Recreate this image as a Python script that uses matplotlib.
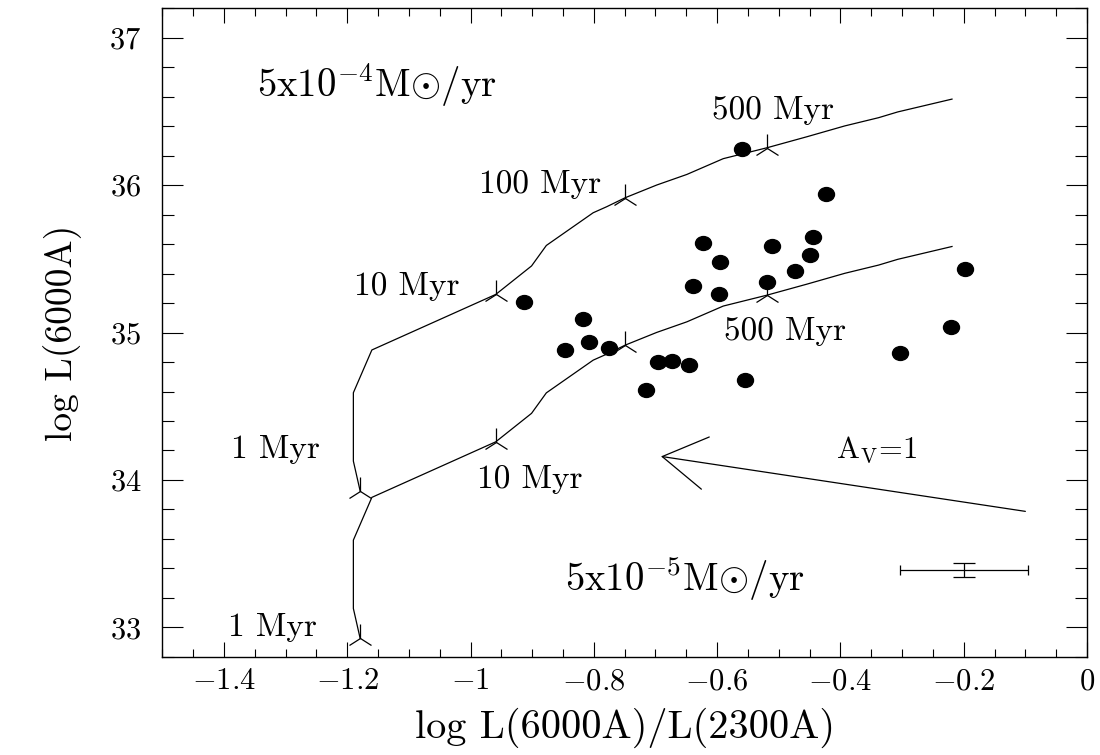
import matplotlib
matplotlib.use("Agg")
import matplotlib.pyplot as plt
from matplotlib.path import Path
from matplotlib.transforms import Affine2D
from matplotlib.ticker import MultipleLocator

plt.rcParams['font.family'] = ['cmr10', 'DejaVu Serif']
plt.rcParams['mathtext.fontset'] = 'cm'
plt.rcParams['axes.unicode_minus'] = False

# observed clusters: log L(6000A)/L(2300A) vs log L(6000A)
obs_x = [-0.423, -0.623, -0.511, -0.444, -0.449, -0.595, -0.474, -0.639,
         -0.519, -0.597, -0.913, -0.818, -0.847, -0.808, -0.775, -0.696,
         -0.673, -0.646, -0.715, -0.555, -0.560, -0.198, -0.220, -0.303]
obs_y = [35.938, 35.609, 35.587, 35.646, 35.526, 35.476, 35.415, 35.313,
         35.341, 35.261, 35.209, 35.094, 34.879, 34.938, 34.897, 34.800,
         34.809, 34.781, 34.608, 34.678, 36.245, 35.429, 35.037, 34.859]

# constant star formation tracks (5e-5 and 5e-4 Mo/yr)
track_x = [-1.179, -1.190, -1.190, -1.160, -0.959, -0.901, -0.877, -0.801,
           -0.779, -0.749, -0.698, -0.649, -0.590, -0.519, -0.454, -0.393,
           -0.338, -0.307, -0.219]
track_lo = [32.925, 33.128, 33.592, 33.882, 34.259, 34.452, 34.591, 34.813,
            34.854, 34.915, 35.001, 35.073, 35.180, 35.254, 35.329, 35.402,
            35.458, 35.497, 35.584]
track_hi = [33.925, 34.128, 34.592, 34.882, 35.259, 35.452, 35.591, 35.813,
            35.854, 35.915, 36.001, 36.073, 36.180, 36.254, 36.329, 36.402,
            36.458, 36.497, 36.584]
age_idx = [0, 4, 9, 13]   # 1, 10, 100, 500 Myr

# reddening vector A_V = 1
av_tail = (-0.100, 33.787)
av_tip = (-0.691, 34.160)

# typical error bar
err_x, err_y = -0.200, 33.390
err_dx, err_dy = 0.104, 0.050

xticks = [-1.4, -1.2, -1.0, -0.8, -0.6, -0.4, -0.2, 0.0]
xtick_labels = ['$-1.4$', '$-1.2$', '$-1$', '$-0.8$', '$-0.6$', '$-0.4$', '$-0.2$', '$0$']
yticks = [33, 34, 35, 36, 37]

fig = plt.figure(figsize=(11, 7.55), dpi=100)
ax = fig.add_axes([0.1475, 0.130, 0.8407, 0.859])

lw = 0.9
ax.plot(track_x, track_lo, color='k', lw=lw)
ax.plot(track_x, track_hi, color='k', lw=lw)
ax.plot([track_x[i] for i in age_idx], [track_lo[i] for i in age_idx],
        ls='none', marker='2', ms=20, mew=lw, color='k')
ax.plot([track_x[i] for i in age_idx], [track_hi[i] for i in age_idx],
        ls='none', marker='2', ms=20, mew=lw, color='k')

ell = Path.unit_circle().transformed(Affine2D().scale(1.0, 0.87))
ax.plot(obs_x, obs_y, ls='none', marker=ell, ms=11.5, color='k')

ax.annotate('', xy=av_tip, xytext=av_tail,
            arrowprops=dict(arrowstyle='->,head_length=1.57,head_width=0.95',
                            mutation_scale=20, lw=lw, color='k',
                            shrinkA=0, shrinkB=0))
ax.errorbar(err_x, err_y, xerr=err_dx, fmt='none', ecolor='k',
            elinewidth=lw, capsize=3.4, capthick=lw)
ax.errorbar(err_x, err_y, yerr=err_dy, fmt='none', ecolor='k',
            elinewidth=lw, capsize=7.6, capthick=lw)

fs = 24
ax.text(-1.317, 34.209, '1 Myr', fontsize=fs, ha='center', va='center')
ax.text(-1.103, 35.315, '10 Myr', fontsize=fs, ha='center', va='center')
ax.text(-0.887, 36.008, '100 Myr', fontsize=fs, ha='center', va='center')
ax.text(-0.509, 36.510, '500 Myr', fontsize=fs, ha='center', va='center')
ax.text(-1.322, 33.001, '1 Myr', fontsize=fs, ha='center', va='center')
ax.text(-0.904, 34.006, '10 Myr', fontsize=fs, ha='center', va='center')
ax.text(-0.490, 35.010, '500 Myr', fontsize=fs, ha='center', va='center')
ax.text(-1.346, 36.600, r'5x10$^{-4}$M$\odot$/yr', fontsize=28, ha='left', va='baseline')
ax.text(-0.847, 33.245, r'5x10$^{-5}$M$\odot$/yr', fontsize=28, ha='left', va='baseline')
ax.text(-0.342, 34.150, r'A$_{\rm V}$=1', fontsize=22, ha='center', va='baseline')

ax.set_xlim(-1.5, 0.0)
ax.set_ylim(32.8, 37.2)
ax.set_xticks(xticks)
ax.set_xticklabels(xtick_labels)
ax.set_yticks(yticks)
ax.set_yticklabels(['$%d$' % v for v in yticks])
ax.xaxis.set_minor_locator(MultipleLocator(0.05))
ax.yaxis.set_minor_locator(MultipleLocator(0.2))
ax.tick_params(which='both', direction='in', top=True, right=True, width=0.8, labelsize=22)
ax.tick_params(axis='x', which='major', length=10.8, pad=8)
ax.tick_params(axis='x', which='minor', length=5.8)
ax.tick_params(axis='y', which='major', length=15, pad=15)
ax.tick_params(axis='y', which='minor', length=8.3)
for sp in ax.spines.values():
    sp.set_linewidth(1.0)

ax.set_xlabel('log L(6000A)/L(2300A)', fontsize=29, labelpad=9)
ax.set_ylabel('log L(6000A)', fontsize=27, labelpad=20)

fig.savefig('out.png', dpi=100)
